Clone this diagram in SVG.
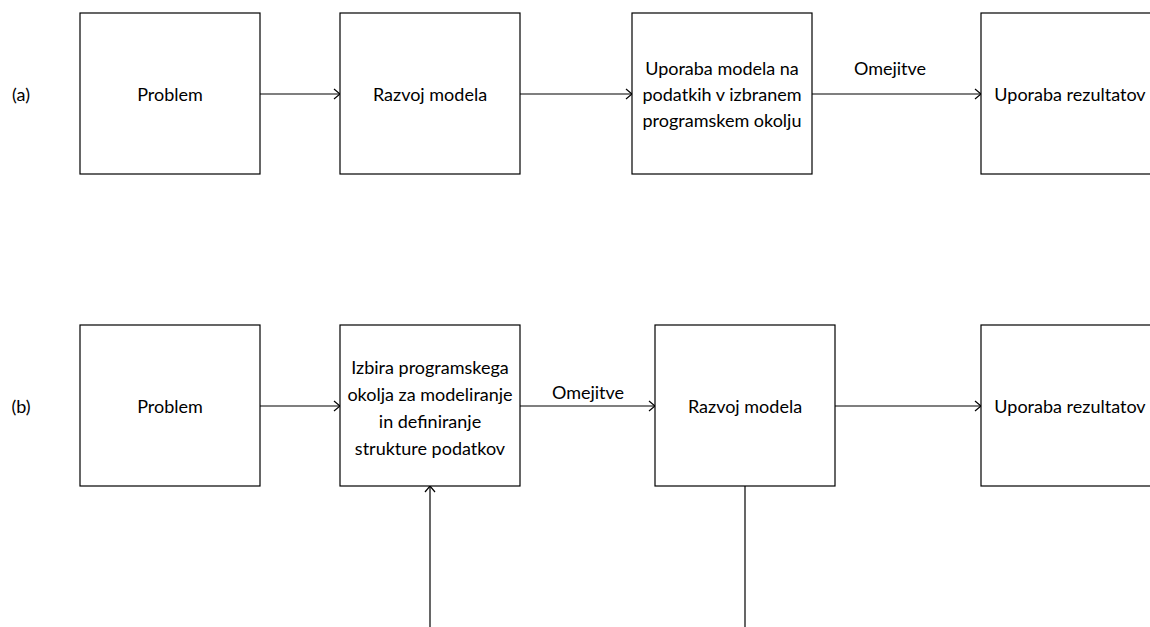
<svg xmlns="http://www.w3.org/2000/svg" width="1150" height="627" viewBox="0 0 1150 627">
  <style>
    .box { fill: #ffffff; stroke: #000000; stroke-width: 1.2; }
    .lbl { font-family: Lato, "Liberation Sans", sans-serif; font-size: 18px; fill: #000000; text-anchor: middle; dominant-baseline: central; }
    .edge { fill: none; stroke: #000000; stroke-width: 1.2; }
  </style>
  <defs>
    <marker id="arrow" viewBox="0 0 10 12" refX="10" refY="6" markerWidth="10" markerHeight="12" markerUnits="userSpaceOnUse" orient="auto">
      <path d="M4,1 L10,6 L4,11" fill="none" stroke="#000000" stroke-width="1.2"/>
    </marker>
  </defs>
  <rect width="1150" height="627" fill="#ffffff"/>

  <!-- row labels -->
  <text class="lbl" x="21" y="94">(a)</text>
  <text class="lbl" x="21" y="406">(b)</text>

  <!-- row (a) -->
  <g id="a-problem">
    <rect class="box" x="80" y="13" width="180" height="161"/>
    <text class="lbl" x="170" y="94">Problem</text>
  </g>
  <g id="a-razvoj">
    <rect class="box" x="340" y="13" width="180" height="161"/>
    <text class="lbl" x="430" y="94">Razvoj modela</text>
  </g>
  <g id="a-uporaba-modela">
    <rect class="box" x="632" y="13" width="180" height="161"/>
    <text class="lbl" x="722" y="68">Uporaba modela na</text>
    <text class="lbl" x="722" y="94">podatkih v izbranem</text>
    <text class="lbl" x="722" y="120">programskem okolju</text>
  </g>
  <g id="a-rezultati">
    <rect class="box" x="981" y="13" width="200" height="161"/>
    <text class="lbl" x="1070" y="94">Uporaba rezultatov</text>
  </g>

  <!-- row (b) -->
  <g id="b-problem">
    <rect class="box" x="80" y="325" width="180" height="161"/>
    <text class="lbl" x="170" y="406">Problem</text>
  </g>
  <g id="b-izbira">
    <rect class="box" x="340" y="325" width="180" height="161"/>
    <text class="lbl" x="430" y="367">Izbira programskega</text>
    <text class="lbl" x="430" y="394">okolja za modeliranje</text>
    <text class="lbl" x="430" y="421">in definiranje</text>
    <text class="lbl" x="430" y="448">strukture podatkov</text>
  </g>
  <g id="b-razvoj">
    <rect class="box" x="655" y="325" width="180" height="161"/>
    <text class="lbl" x="745" y="406">Razvoj modela</text>
  </g>
  <g id="b-rezultati">
    <rect class="box" x="981" y="325" width="200" height="161"/>
    <text class="lbl" x="1070" y="406">Uporaba rezultatov</text>
  </g>

  <!-- connectors -->
  <g id="connectors">
    <line class="edge" x1="260" y1="94" x2="340" y2="94" marker-end="url(#arrow)"/>
    <line class="edge" x1="520" y1="94" x2="632" y2="94" marker-end="url(#arrow)"/>
    <line class="edge" x1="812" y1="94" x2="981" y2="94" marker-end="url(#arrow)"/>
    <text class="lbl" x="890" y="68">Omejitve</text>

    <line class="edge" x1="260" y1="406" x2="340" y2="406" marker-end="url(#arrow)"/>
    <line class="edge" x1="520" y1="406" x2="655" y2="406" marker-end="url(#arrow)"/>
    <text class="lbl" x="588" y="392">Omejitve</text>
    <line class="edge" x1="835" y1="406" x2="981" y2="406" marker-end="url(#arrow)"/>

    <line class="edge" x1="430" y1="627" x2="430" y2="486" marker-end="url(#arrow)"/>
    <line class="edge" x1="745" y1="486" x2="745" y2="627"/>
  </g>
</svg>
